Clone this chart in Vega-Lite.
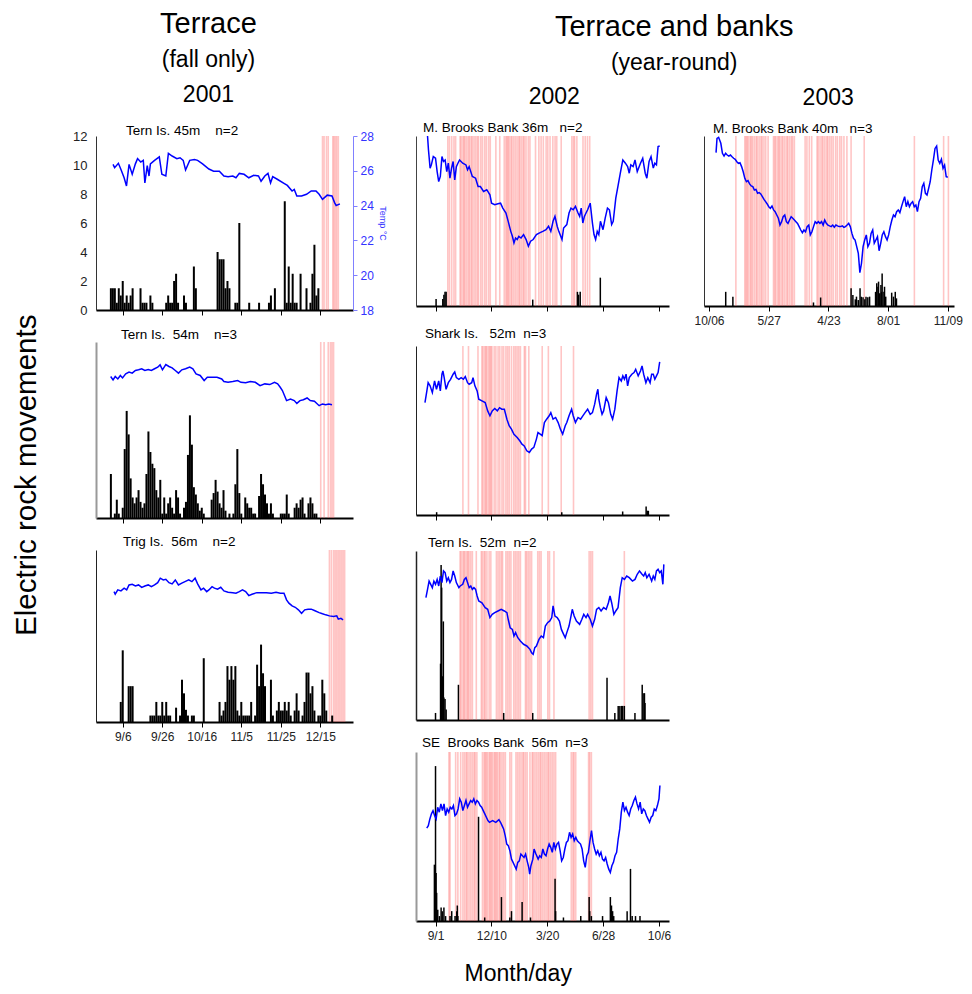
{
"$schema": "https://vega.github.io/schema/vega-lite/v6.json",
"background": "white",
"padding": {"left": 12, "top": 9, "right": 5, "bottom": 5},
"config": {
  "font": "Liberation Sans",
  "view": {"stroke": null},
  "axis": {"grid": false, "labelFont": "Liberation Sans", "labelFontSize": 12, "labelColor": "#222", "domainColor": "#000", "tickColor": "#000", "titleFontWeight": "normal", "labelFlush": false},
  "title": {"fontWeight": "normal", "color": "#000", "subtitleColor": "#000", "font": "Liberation Sans", "subtitleFont": "Liberation Sans"},
  "line": {"strokeWidth": 1.5}
},
"title": {"text": "Month/day", "orient": "bottom", "anchor": "middle", "fontSize": 23, "offset": 22, "dx": 31},
"vconcat": [{
 "title": {"text": "Electric rock movements", "orient": "left", "anchor": "middle", "fontSize": 29.5, "offset": 30},
 "spacing": 29,
 "hconcat": [
  {
   "title": {"text": "Terrace", "subtitle": ["(fall only)", "2001"], "fontSize": 29, "subtitleFontSize": 23, "subtitlePadding": 10, "subtitleLineHeight": 35, "anchor": "middle", "dx": -21, "offset": 17},
   "spacing": 10,
   "vconcat": [
    {
     "width": 257, "height": 174,
     "title": {"text": "Tern Is. 45m\u00a0\u00a0\u00a0 n=2", "anchor": "start", "frame": "group", "dx": 30, "fontSize": 13.5, "offset": -7},
     "encoding": {"x": {"field": "d", "type": "quantitative", "scale": {"domain": [-11, 114], "nice": false, "zero": false}, "axis": {"values": [0,20,40,60,80,100], "labels": false, "title": null, "domainWidth": 2, "tickSize": 5}}},
     "layer": [
      {"data": {"name": "L1e"}, "mark": {"type": "rule", "color": "#ff5a5a", "opacity": 0.35, "strokeWidth": 1.6}, "encoding": {}},
      {"data": {"name": "L1b"}, "mark": {"type": "bar", "color": "#000", "size": 2, "orient": "vertical"}, "encoding": {"y": {"field": "n", "type": "quantitative", "stack": null, "scale": {"domain": [0, 12]}, "axis": {"orient": "left", "values": [0,2,4,6,8,10,12], "ticks": false, "labelPadding": 9, "title": null, "domainColor": "#333", "labelFontSize": 13}}}},
      {"data": {"name": "L1t"}, "mark": {"type": "line", "color": "#0000ff"}, "encoding": {"y": {"field": "t", "type": "quantitative", "scale": {"domain": [18, 28]}, "axis": {"orient": "right", "values": [18,20,22,24,26,28], "title": "Temp \u00b0C", "titleFontSize": 9, "titleColor": "#3333ff", "labelColor": "#3333ff", "domainColor": "#8080ff", "tickColor": "#8080ff", "tickSize": 4, "labelPadding": 3, "titlePadding": 4}}}}
     ],
     "resolve": {"scale": {"y": "independent"}}
    },
    {
     "width": 257, "height": 176,
     "title": {"text": "Tern Is.\u00a0\u00a054m\u00a0\u00a0\u00a0 n=3", "anchor": "start", "frame": "group", "dx": 25, "fontSize": 13.5, "offset": 0},
     "encoding": {"x": {"field": "d", "type": "quantitative", "scale": {"domain": [-11, 114], "nice": false, "zero": false}, "axis": {"values": [0,20,40,60,80,100], "labels": false, "title": null, "domainWidth": 2, "tickSize": 5}}},
     "layer": [
      {"data": {"name": "L2e"}, "mark": {"type": "rule", "color": "#ff5a5a", "opacity": 0.35, "strokeWidth": 1.6}, "encoding": {}},
      {"data": {"name": "L2b"}, "mark": {"type": "bar", "color": "#000", "size": 2, "orient": "vertical"}, "encoding": {"y": {"field": "n", "type": "quantitative", "stack": null, "scale": {"domain": [0, 12]}, "axis": {"orient": "left", "labels": false, "ticks": false, "title": null, "domainColor": "#999", "domainWidth": 2}}}},
      {"data": {"name": "L2t"}, "mark": {"type": "line", "color": "#0000ff"}, "encoding": {"y": {"field": "t", "type": "quantitative", "scale": {"domain": [18, 28]}, "axis": null}}}
     ],
     "resolve": {"scale": {"y": "independent"}}
    },
    {
     "width": 257, "height": 172,
     "title": {"text": "Trig Is.\u00a0\u00a056m\u00a0\u00a0\u00a0 n=2", "anchor": "start", "frame": "group", "dx": 27, "fontSize": 13.5, "offset": 1},
     "encoding": {"x": {"field": "d", "type": "quantitative", "scale": {"domain": [-11, 114], "nice": false, "zero": false}, "axis": {"values": [0,20,40,60,80,100], "labelExpr": "['9/6','9/26','10/16','11/5','11/25','12/15'][datum.value/20]", "title": null, "domainWidth": 2, "tickSize": 5, "labelPadding": 4}}},
     "layer": [
      {"data": {"name": "L3e"}, "mark": {"type": "rule", "color": "#ff5a5a", "opacity": 0.35, "strokeWidth": 1.6}, "encoding": {}},
      {"data": {"name": "L3b"}, "mark": {"type": "bar", "color": "#000", "size": 2, "orient": "vertical"}, "encoding": {"y": {"field": "n", "type": "quantitative", "stack": null, "scale": {"domain": [0, 12]}, "axis": {"orient": "left", "labels": false, "ticks": false, "title": null, "domainColor": "#222"}}}},
      {"data": {"name": "L3t"}, "mark": {"type": "line", "color": "#0000ff"}, "encoding": {"y": {"field": "t", "type": "quantitative", "scale": {"domain": [18, 28]}, "axis": null}}}
     ],
     "resolve": {"scale": {"y": "independent"}}
    }
   ]
  },
  {
   "title": {"text": "Terrace and banks", "subtitle": "(year-round)", "fontSize": 29, "subtitleFontSize": 23, "subtitlePadding": 10, "anchor": "middle", "dx": -15, "offset": 11},
   "spacing": 22,
   "hconcat": [
    {
     "title": {"text": "2002", "anchor": "middle", "fontSize": 23, "offset": 12, "dx": 11},
     "spacing": 14,
     "vconcat": [
      {
       "width": 253, "height": 170,
       "title": {"text": "M. Brooks Bank 36m\u00a0\u00a0 n=2", "anchor": "start", "frame": "group", "dx": 7, "fontSize": 13.5, "offset": -1},
       "encoding": {"x": {"field": "d", "type": "quantitative", "scale": {"domain": [-26, 409], "nice": false, "zero": false}, "axis": {"values": [0,100,200,300,400], "labels": false, "title": null, "domainWidth": 2, "tickSize": 5}}},
       "layer": [
        {"data": {"name": "M1e"}, "mark": {"type": "rule", "color": "#ff5a5a", "opacity": 0.35, "strokeWidth": 1.6}, "encoding": {}},
        {"data": {"name": "M1b"}, "mark": {"type": "bar", "color": "#000", "size": 1.5, "orient": "vertical"}, "encoding": {"y": {"field": "n", "type": "quantitative", "stack": null, "scale": {"domain": [0, 12]}, "axis": {"orient": "left", "labels": false, "ticks": false, "title": null, "domainColor": "#444"}}}},
        {"data": {"name": "M1t"}, "mark": {"type": "line", "color": "#0000ff"}, "encoding": {"y": {"field": "t", "type": "quantitative", "scale": {"domain": [18, 28]}, "axis": null}}}
       ],
       "resolve": {"scale": {"y": "independent"}}
      },
      {
       "width": 253, "height": 169,
       "title": {"text": "Shark Is.\u00a0\u00a0\u00a052m\u00a0\u00a0n=3", "anchor": "start", "frame": "group", "dx": 9, "fontSize": 13.5, "offset": 5},
       "encoding": {"x": {"field": "d", "type": "quantitative", "scale": {"domain": [-26, 409], "nice": false, "zero": false}, "axis": {"values": [0,100,200,300,400], "labels": false, "title": null, "domainWidth": 2, "tickSize": 5}}},
       "layer": [
        {"data": {"name": "M2e"}, "mark": {"type": "rule", "color": "#ff5a5a", "opacity": 0.35, "strokeWidth": 1.6}, "encoding": {}},
        {"data": {"name": "M2b"}, "mark": {"type": "bar", "color": "#000", "size": 1.5, "orient": "vertical"}, "encoding": {"y": {"field": "n", "type": "quantitative", "stack": null, "scale": {"domain": [0, 12]}, "axis": {"orient": "left", "labels": false, "ticks": false, "title": null, "domainColor": "#222"}}}},
        {"data": {"name": "M2t"}, "mark": {"type": "line", "color": "#0000ff"}, "encoding": {"y": {"field": "t", "type": "quantitative", "scale": {"domain": [18, 28]}, "axis": null}}}
       ],
       "resolve": {"scale": {"y": "independent"}}
      },
      {
       "width": 253, "height": 169,
       "title": {"text": "Tern Is.\u00a0\u00a052m\u00a0\u00a0n=2", "anchor": "start", "frame": "group", "dx": 12, "fontSize": 13.5, "offset": 1},
       "encoding": {"x": {"field": "d", "type": "quantitative", "scale": {"domain": [-26, 409], "nice": false, "zero": false}, "axis": {"values": [0,100,200,300,400], "labels": false, "ticks": false, "title": null, "domainWidth": 2}}},
       "layer": [
        {"data": {"name": "M3e"}, "mark": {"type": "rule", "color": "#ff5a5a", "opacity": 0.35, "strokeWidth": 1.6}, "encoding": {}},
        {"data": {"name": "M3b"}, "mark": {"type": "bar", "color": "#000", "size": 1.5, "orient": "vertical"}, "encoding": {"y": {"field": "n", "type": "quantitative", "stack": null, "scale": {"domain": [0, 12]}, "axis": {"orient": "left", "labels": false, "ticks": false, "title": null, "domainColor": "#222", "domainWidth": 1.5}}}},
        {"data": {"name": "M3t"}, "mark": {"type": "line", "color": "#0000ff"}, "encoding": {"y": {"field": "t", "type": "quantitative", "scale": {"domain": [18, 28]}, "axis": null}}}
       ],
       "resolve": {"scale": {"y": "independent"}}
      },
      {
       "width": 253, "height": 169,
       "title": {"text": "SE\u00a0\u00a0Brooks Bank\u00a0\u00a056m\u00a0\u00a0n=3", "anchor": "start", "frame": "group", "dx": 6, "fontSize": 13.5, "offset": 2},
       "encoding": {"x": {"field": "d", "type": "quantitative", "scale": {"domain": [-26, 409], "nice": false, "zero": false}, "axis": {"values": [0,100,200,300,400], "labelExpr": "['9/1','12/10','3/20','6/28','10/6'][datum.value/100]", "title": null, "domainWidth": 2, "tickSize": 5, "labelPadding": 4}}},
       "layer": [
        {"data": {"name": "M4e"}, "mark": {"type": "rule", "color": "#ff5a5a", "opacity": 0.35, "strokeWidth": 1.6}, "encoding": {}},
        {"data": {"name": "M4b"}, "mark": {"type": "bar", "color": "#000", "size": 1.5, "orient": "vertical"}, "encoding": {"y": {"field": "n", "type": "quantitative", "stack": null, "scale": {"domain": [0, 12]}, "axis": {"orient": "left", "labels": false, "ticks": false, "title": null, "domainColor": "#999", "domainWidth": 2}}}},
        {"data": {"name": "M4t"}, "mark": {"type": "line", "color": "#0000ff"}, "encoding": {"y": {"field": "t", "type": "quantitative", "scale": {"domain": [18, 28]}, "axis": null}}}
       ],
       "resolve": {"scale": {"y": "independent"}}
      }
     ]
    },
    {
     "title": {"text": "2003", "anchor": "middle", "fontSize": 23, "offset": 12},
     "vconcat": [
      {
       "width": 250, "height": 170,
       "title": {"text": "M. Brooks Bank 40m\u00a0\u00a0 n=3", "anchor": "start", "frame": "group", "dx": 9, "fontSize": 13.5, "offset": -1},
       "encoding": {"x": {"field": "d", "type": "quantitative", "scale": {"domain": [0, 402], "nice": false, "zero": false}, "axis": {"values": [0,100,200,300,400], "labelExpr": "['10/06','5/27','4/23','8/01','11/09'][datum.value/100]", "title": null, "domainWidth": 2, "tickSize": 5, "labelPadding": 4}}},
       "layer": [
        {"data": {"name": "R1e"}, "mark": {"type": "rule", "color": "#ff5a5a", "opacity": 0.35, "strokeWidth": 1.6}, "encoding": {}},
        {"data": {"name": "R1b"}, "mark": {"type": "bar", "color": "#000", "size": 1.5, "orient": "vertical"}, "encoding": {"y": {"field": "n", "type": "quantitative", "stack": null, "scale": {"domain": [0, 12]}, "axis": {"orient": "left", "labels": false, "ticks": false, "title": null, "domainColor": "#333"}}}},
        {"data": {"name": "R1t"}, "mark": {"type": "line", "color": "#0000ff"}, "encoding": {"y": {"field": "t", "type": "quantitative", "scale": {"domain": [18, 28]}, "axis": null}}}
       ],
       "resolve": {"scale": {"y": "independent"}}
      }
     ]
    }
   ]
  }
 ]
}],
"datasets": {
"L1t": [{"d":-4.9,"t":26.37},{"d":-4.1,"t":26.18},{"d":-2.2,"t":26.43},{"d":-0.9,"t":26.08},{"d":0.7,"t":25.6},{"d":1.9,"t":25.13},{"d":3.2,"t":26.37},{"d":4.8,"t":25.8},{"d":6.4,"t":26.4},{"d":7.5,"t":26.7},{"d":9.1,"t":26.5},{"d":10.4,"t":26.6},{"d":11.2,"t":25.3},{"d":12.4,"t":26.3},{"d":13.3,"t":25.7},{"d":14.0,"t":26.4},{"d":16.1,"t":26.6},{"d":18.5,"t":26.8},{"d":19.8,"t":25.8},{"d":21.8,"t":25.7},{"d":23.1,"t":27.0},{"d":25.0,"t":26.85},{"d":27.4,"t":26.7},{"d":29.0,"t":26.75},{"d":30.6,"t":26.6},{"d":31.8,"t":26.05},{"d":33.9,"t":26.6},{"d":36.3,"t":26.65},{"d":37.9,"t":26.6},{"d":40.4,"t":26.4},{"d":43.6,"t":26.1},{"d":46.0,"t":25.98},{"d":48.9,"t":25.98},{"d":51.2,"t":25.7},{"d":53.3,"t":25.66},{"d":55.7,"t":25.7},{"d":57.3,"t":25.6},{"d":59.0,"t":25.85},{"d":61.4,"t":25.8},{"d":63.8,"t":25.6},{"d":66.3,"t":25.74},{"d":68.7,"t":25.7},{"d":70.0,"t":25.4},{"d":71.9,"t":25.7},{"d":73.5,"t":25.85},{"d":74.8,"t":25.3},{"d":75.9,"t":25.66},{"d":78.4,"t":25.5},{"d":81.6,"t":25.28},{"d":83.3,"t":25.16},{"d":85.7,"t":24.84},{"d":86.8,"t":24.93},{"d":88.1,"t":24.55},{"d":90.5,"t":24.55},{"d":93.0,"t":24.65},{"d":95.4,"t":24.84},{"d":97.8,"t":24.84},{"d":99.4,"t":24.65},{"d":101.1,"t":24.36},{"d":103.5,"t":24.6},{"d":105.9,"t":24.55},{"d":107.2,"t":24.17},{"d":108.0,"t":24.0},{"d":109.9,"t":24.1}],
"L1b": [{"d":-6,"n":1.5},{"d":-5,"n":1.5},{"d":-4,"n":1.5},{"d":-3,"n":0.5},{"d":-2,"n":1.5},{"d":-1,"n":1.0},{"d":0,"n":2.0},{"d":1,"n":0.5},{"d":2,"n":1.0},{"d":3,"n":0.5},{"d":4,"n":1.0},{"d":5,"n":1.5},{"d":9,"n":1.5},{"d":10,"n":0.5},{"d":11,"n":0.5},{"d":12,"n":0.5},{"d":14,"n":1.0},{"d":15,"n":0.5},{"d":22,"n":0.5},{"d":23,"n":1.0},{"d":24,"n":0.5},{"d":25,"n":0.5},{"d":26,"n":2.0},{"d":27,"n":2.5},{"d":28,"n":0.5},{"d":31,"n":1.0},{"d":32,"n":0.5},{"d":36,"n":3.0},{"d":37,"n":1.5},{"d":48,"n":4.0},{"d":49,"n":3.5},{"d":50,"n":3.5},{"d":51,"n":3.5},{"d":52,"n":1.5},{"d":53,"n":2.0},{"d":54,"n":1.5},{"d":57,"n":0.5},{"d":58,"n":0.5},{"d":59,"n":6.0},{"d":64,"n":0.5},{"d":69,"n":0.5},{"d":74,"n":0.5},{"d":75,"n":1.0},{"d":77,"n":1.5},{"d":82,"n":7.5},{"d":83,"n":0.5},{"d":84,"n":3.0},{"d":85,"n":0.5},{"d":86,"n":2.5},{"d":87,"n":0.5},{"d":88,"n":0.5},{"d":90,"n":2.5},{"d":93,"n":1.5},{"d":95,"n":0.5},{"d":96,"n":2.5},{"d":97,"n":4.5},{"d":98,"n":1.0},{"d":99,"n":1.5}],
"L1e": [{"d":101.1},{"d":101.9},{"d":103.1},{"d":104.0},{"d":106.3},{"d":106.9},{"d":107.6},{"d":108.3},{"d":109.1}],
"L2t": [{"d":-6.1,"t":26.04},{"d":-4.9,"t":25.85},{"d":-3.8,"t":26.04},{"d":-2.5,"t":25.9},{"d":-1.2,"t":26.1},{"d":-0.1,"t":25.96},{"d":1.5,"t":26.19},{"d":3.2,"t":26.29},{"d":4.8,"t":26.23},{"d":6.4,"t":26.38},{"d":8.0,"t":26.42},{"d":9.6,"t":26.48},{"d":11.2,"t":26.38},{"d":12.9,"t":26.44},{"d":14.5,"t":26.38},{"d":16.1,"t":26.48},{"d":17.7,"t":26.57},{"d":18.9,"t":26.7},{"d":20.1,"t":26.42},{"d":21.8,"t":26.72},{"d":23.4,"t":26.61},{"d":25.0,"t":26.53},{"d":26.6,"t":26.38},{"d":28.2,"t":26.23},{"d":29.9,"t":26.42},{"d":31.8,"t":26.48},{"d":33.9,"t":26.57},{"d":35.5,"t":26.48},{"d":37.1,"t":26.19},{"d":39.2,"t":26.1},{"d":41.2,"t":25.81},{"d":42.8,"t":26.0},{"d":45.2,"t":26.0},{"d":47.7,"t":26.0},{"d":50.1,"t":25.9},{"d":51.2,"t":25.75},{"d":53.3,"t":25.71},{"d":55.7,"t":25.75},{"d":58.2,"t":25.81},{"d":59.8,"t":25.71},{"d":62.2,"t":25.68},{"d":64.6,"t":25.75},{"d":67.1,"t":25.71},{"d":69.5,"t":25.52},{"d":71.9,"t":25.62},{"d":74.4,"t":25.58},{"d":76.8,"t":25.71},{"d":78.4,"t":25.62},{"d":79.7,"t":25.43},{"d":80.8,"t":25.24},{"d":81.9,"t":24.95},{"d":82.9,"t":24.67},{"d":84.9,"t":24.76},{"d":86.8,"t":24.67},{"d":88.1,"t":24.51},{"d":89.7,"t":24.67},{"d":91.4,"t":24.72},{"d":93.3,"t":24.82},{"d":94.9,"t":24.67},{"d":97.0,"t":24.63},{"d":99.4,"t":24.38},{"d":101.1,"t":24.48},{"d":102.7,"t":24.44},{"d":104.3,"t":24.48},{"d":105.9,"t":24.44}],
"L2b": [{"d":-6,"n":3.0},{"d":-4,"n":0.3},{"d":-3,"n":1.25},{"d":-2,"n":0.3},{"d":0,"n":0.7},{"d":1,"n":4.7},{"d":2,"n":7.3},{"d":3,"n":5.7},{"d":4,"n":2.7},{"d":5,"n":1.4},{"d":6,"n":1.0},{"d":7,"n":1.4},{"d":8,"n":1.9},{"d":9,"n":1.1},{"d":10,"n":0.7},{"d":11,"n":1.0},{"d":12,"n":3.0},{"d":13,"n":5.9},{"d":14,"n":4.5},{"d":15,"n":3.7},{"d":16,"n":3.4},{"d":17,"n":1.9},{"d":18,"n":1.4},{"d":19,"n":2.6},{"d":20,"n":0.3},{"d":21,"n":1.4},{"d":22,"n":0.3},{"d":23,"n":1.0},{"d":24,"n":1.4},{"d":25,"n":0.7},{"d":26,"n":0.3},{"d":27,"n":1.9},{"d":28,"n":1.4},{"d":29,"n":0.3},{"d":31,"n":0.7},{"d":32,"n":1.1},{"d":33,"n":4.3},{"d":34,"n":7.0},{"d":35,"n":5.0},{"d":36,"n":2.1},{"d":37,"n":1.6},{"d":38,"n":1.0},{"d":39,"n":0.5},{"d":40,"n":0.7},{"d":41,"n":0.3},{"d":45,"n":1.25},{"d":46,"n":1.7},{"d":47,"n":2.6},{"d":48,"n":1.8},{"d":49,"n":1.0},{"d":50,"n":0.7},{"d":51,"n":1.9},{"d":52,"n":0.5},{"d":54,"n":0.3},{"d":56,"n":0.3},{"d":57,"n":2.3},{"d":58,"n":4.7},{"d":59,"n":1.7},{"d":60,"n":0.3},{"d":62,"n":1.4},{"d":63,"n":1.0},{"d":64,"n":0.7},{"d":65,"n":0.7},{"d":66,"n":0.3},{"d":67,"n":0.3},{"d":69,"n":1.5},{"d":70,"n":3.0},{"d":71,"n":2.3},{"d":72,"n":1.6},{"d":73,"n":1.0},{"d":74,"n":0.3},{"d":75,"n":1.0},{"d":76,"n":0.3},{"d":80,"n":0.3},{"d":81,"n":0.3},{"d":82,"n":0.3},{"d":83,"n":1.6},{"d":84,"n":0.3},{"d":87,"n":0.7},{"d":88,"n":1.0},{"d":89,"n":0.7},{"d":90,"n":1.25},{"d":91,"n":1.4},{"d":92,"n":0.3},{"d":94,"n":1.0},{"d":95,"n":1.4},{"d":96,"n":1.0},{"d":97,"n":0.3},{"d":98,"n":0.3}],
"L2e": [{"d":100.2},{"d":101.9},{"d":104.0},{"d":105.1},{"d":105.9},{"d":106.7}],
"L3t": [{"d":-4.4,"t":25.58},{"d":-3.8,"t":25.43},{"d":-2.5,"t":25.68},{"d":-0.9,"t":25.62},{"d":0.7,"t":25.78},{"d":2.0,"t":25.68},{"d":3.2,"t":25.97},{"d":4.8,"t":26.01},{"d":6.4,"t":25.91},{"d":8.0,"t":25.97},{"d":9.6,"t":25.83},{"d":11.2,"t":25.91},{"d":12.9,"t":25.97},{"d":14.5,"t":25.87},{"d":16.1,"t":25.97},{"d":17.7,"t":26.1},{"d":19.0,"t":26.36},{"d":20.5,"t":26.26},{"d":21.8,"t":26.3},{"d":23.4,"t":26.1},{"d":25.0,"t":26.03},{"d":26.6,"t":26.26},{"d":28.2,"t":25.97},{"d":29.9,"t":26.07},{"d":31.5,"t":26.16},{"d":33.4,"t":26.26},{"d":35.0,"t":26.16},{"d":36.6,"t":26.36},{"d":37.9,"t":26.03},{"d":39.6,"t":25.68},{"d":40.9,"t":25.78},{"d":42.5,"t":25.58},{"d":43.6,"t":25.68},{"d":45.2,"t":25.87},{"d":46.4,"t":25.78},{"d":48.0,"t":25.72},{"d":49.6,"t":25.83},{"d":51.2,"t":25.62},{"d":53.3,"t":25.54},{"d":55.7,"t":25.52},{"d":57.3,"t":25.49},{"d":59.0,"t":25.58},{"d":60.6,"t":25.68},{"d":62.2,"t":25.58},{"d":63.8,"t":25.35},{"d":65.4,"t":25.43},{"d":67.9,"t":25.52},{"d":70.3,"t":25.52},{"d":72.7,"t":25.52},{"d":75.2,"t":25.49},{"d":77.6,"t":25.54},{"d":79.7,"t":25.49},{"d":81.6,"t":25.49},{"d":82.9,"t":25.1},{"d":84.1,"t":24.91},{"d":85.7,"t":24.75},{"d":87.3,"t":24.67},{"d":88.9,"t":24.52},{"d":90.5,"t":24.32},{"d":92.1,"t":24.52},{"d":93.8,"t":24.56},{"d":95.4,"t":24.56},{"d":97.0,"t":24.48},{"d":99.4,"t":24.36},{"d":101.1,"t":24.29},{"d":102.7,"t":24.23},{"d":104.6,"t":24.17},{"d":106.7,"t":24.13},{"d":108.3,"t":24.17},{"d":109.1,"t":23.98},{"d":110.4,"t":24.03},{"d":111.5,"t":23.94}],
"L3b": [{"d":-1,"n":1.4},{"d":0,"n":5.0},{"d":3,"n":2.5},{"d":4,"n":2.5},{"d":5,"n":2.5},{"d":14,"n":0.45},{"d":15,"n":0.45},{"d":16,"n":0.45},{"d":17,"n":1.4},{"d":18,"n":0.45},{"d":19,"n":0.45},{"d":20,"n":1.4},{"d":21,"n":0.45},{"d":22,"n":1.4},{"d":23,"n":0.45},{"d":24,"n":0.45},{"d":27,"n":1.0},{"d":29,"n":0.45},{"d":30,"n":2.95},{"d":31,"n":2.0},{"d":32,"n":0.85},{"d":33,"n":0.45},{"d":35,"n":0.45},{"d":36,"n":0.45},{"d":41,"n":4.45},{"d":49,"n":1.4},{"d":50,"n":0.45},{"d":51,"n":0.8},{"d":52,"n":1.4},{"d":53,"n":3.9},{"d":54,"n":2.95},{"d":55,"n":3.9},{"d":56,"n":2.95},{"d":57,"n":3.9},{"d":58,"n":0.8},{"d":59,"n":0.45},{"d":60,"n":1.4},{"d":61,"n":0.45},{"d":62,"n":0.45},{"d":63,"n":0.45},{"d":64,"n":0.45},{"d":65,"n":1.4},{"d":67,"n":0.45},{"d":68,"n":4.0},{"d":69,"n":2.5},{"d":70,"n":5.4},{"d":71,"n":3.4},{"d":72,"n":2.5},{"d":75,"n":2.95},{"d":76,"n":0.45},{"d":78,"n":0.8},{"d":79,"n":1.4},{"d":80,"n":0.8},{"d":81,"n":0.8},{"d":82,"n":1.4},{"d":83,"n":0.8},{"d":84,"n":1.4},{"d":85,"n":0.45},{"d":87,"n":0.8},{"d":88,"n":2.0},{"d":89,"n":0.8},{"d":91,"n":0.45},{"d":92,"n":1.4},{"d":93,"n":3.45},{"d":94,"n":3.45},{"d":95,"n":2.0},{"d":96,"n":2.5},{"d":97,"n":0.8},{"d":99,"n":0.45},{"d":100,"n":0.45},{"d":101,"n":2.95},{"d":102,"n":2.0},{"d":103,"n":0.8},{"d":106,"n":0.45}],
"L3e": [{"d":104.6},{"d":105.6},{"d":106.7},{"d":107.5},{"d":108.3},{"d":109.1},{"d":109.9},{"d":110.7},{"d":111.5},{"d":112.3}],
"M1t": [{"d":-14.3,"t":28.0},{"d":-12.6,"t":27.18},{"d":-9.7,"t":26.11},{"d":-7.5,"t":26.3},{"d":-4.0,"t":26.79},{"d":0,"t":26.69},{"d":2.9,"t":25.91},{"d":5.7,"t":25.32},{"d":8.6,"t":25.62},{"d":11.5,"t":26.79},{"d":14.3,"t":26.5},{"d":17.2,"t":26.59},{"d":20.1,"t":25.91},{"d":22.9,"t":26.4},{"d":25.8,"t":25.52},{"d":28.7,"t":26.11},{"d":31.5,"t":26.5},{"d":34.4,"t":25.42},{"d":37.3,"t":26.2},{"d":40.1,"t":26.4},{"d":43.0,"t":26.59},{"d":48.7,"t":26.4},{"d":54.5,"t":26.3},{"d":57.3,"t":26.01},{"d":60.2,"t":26.2},{"d":65.9,"t":25.62},{"d":71.7,"t":25.52},{"d":76.2,"t":25.03},{"d":80.3,"t":25.03},{"d":86.0,"t":24.74},{"d":91.7,"t":24.84},{"d":97.4,"t":24.54},{"d":100.3,"t":24.05},{"d":106.0,"t":23.96},{"d":111.8,"t":24.02},{"d":116.4,"t":24.05},{"d":120.4,"t":23.76},{"d":126.1,"t":23.47},{"d":130.1,"t":22.98},{"d":134.7,"t":22.39},{"d":137.6,"t":22.1},{"d":140.4,"t":21.71},{"d":143.3,"t":22.0},{"d":146.2,"t":21.91},{"d":149.0,"t":22.1},{"d":153.1,"t":22.0},{"d":157.6,"t":22.2},{"d":162.2,"t":21.91},{"d":166.2,"t":21.52},{"d":170.2,"t":21.81},{"d":174.8,"t":21.91},{"d":180.6,"t":22.2},{"d":186.3,"t":22.3},{"d":192.0,"t":22.39},{"d":197.8,"t":22.49},{"d":202.3,"t":22.69},{"d":206.4,"t":22.39},{"d":210.4,"t":22.98},{"d":213.8,"t":23.27},{"d":217.8,"t":22.69},{"d":220.7,"t":22.39},{"d":226.4,"t":21.91},{"d":229.3,"t":22.59},{"d":235.0,"t":22.79},{"d":239.0,"t":23.47},{"d":242.5,"t":23.76},{"d":246.5,"t":23.66},{"d":250.5,"t":23.86},{"d":255.1,"t":23.47},{"d":258.0,"t":23.27},{"d":260.8,"t":23.76},{"d":263.7,"t":22.88},{"d":266.5,"t":23.27},{"d":269.4,"t":23.47},{"d":272.3,"t":23.66},{"d":276.9,"t":24.05},{"d":280.9,"t":22.88},{"d":283.7,"t":22.2},{"d":286.6,"t":21.91},{"d":289.5,"t":22.39},{"d":292.3,"t":22.2},{"d":295.2,"t":22.98},{"d":299.8,"t":22.49},{"d":303.8,"t":23.18},{"d":307.8,"t":23.76},{"d":311.3,"t":23.66},{"d":315.3,"t":22.79},{"d":318.1,"t":22.98},{"d":322.7,"t":24.35},{"d":326.7,"t":25.07},{"d":330.8,"t":25.81},{"d":335.3,"t":26.59},{"d":339.9,"t":26.4},{"d":343.9,"t":26.2},{"d":346.8,"t":25.81},{"d":349.6,"t":26.3},{"d":353.7,"t":26.2},{"d":357.1,"t":26.59},{"d":361.1,"t":25.91},{"d":366.9,"t":26.4},{"d":370.9,"t":26.69},{"d":375.4,"t":25.81},{"d":378.3,"t":25.52},{"d":382.3,"t":26.5},{"d":385.8,"t":26.79},{"d":389.8,"t":26.11},{"d":392.6,"t":26.4},{"d":395.5,"t":26.3},{"d":398.4,"t":27.38},{"d":401.3,"t":27.41}],
"M1b": [{"d":1,"n":0.5},{"d":13,"n":0.5},{"d":15,"n":0.8},{"d":17,"n":1.0},{"d":19,"n":1.0},{"d":174,"n":0.45},{"d":254,"n":1.0},{"d":256,"n":0.8},{"d":259,"n":1.0},{"d":295,"n":2.0}],
"M1e": [{"d":22},{"d":25},{"d":29},{"d":33},{"d":36},{"d":44},{"d":46},{"d":49},{"d":51},{"d":53},{"d":56},{"d":59},{"d":61},{"d":64},{"d":66},{"d":69},{"d":72},{"d":75},{"d":77},{"d":81},{"d":84},{"d":88},{"d":91},{"d":95},{"d":98},{"d":108},{"d":115},{"d":123},{"d":126},{"d":128},{"d":130},{"d":132},{"d":135},{"d":137},{"d":140},{"d":143},{"d":146},{"d":149},{"d":151},{"d":154},{"d":157},{"d":159},{"d":162},{"d":166},{"d":169},{"d":179},{"d":185},{"d":189},{"d":193},{"d":198},{"d":201},{"d":205},{"d":210},{"d":214},{"d":217},{"d":225},{"d":244},{"d":247},{"d":249},{"d":253},{"d":264},{"d":268},{"d":272},{"d":276}],
"M2t": [{"d":-18.9,"t":24.65},{"d":-15.5,"t":25.34},{"d":-13.2,"t":25.83},{"d":-9.7,"t":25.64},{"d":-5.7,"t":25.24},{"d":-1.7,"t":25.93},{"d":1.7,"t":25.44},{"d":5.7,"t":25.93},{"d":8.6,"t":25.34},{"d":11.5,"t":26.33},{"d":13.2,"t":26.52},{"d":15.5,"t":26.13},{"d":18.9,"t":25.44},{"d":22.9,"t":25.83},{"d":26.9,"t":26.03},{"d":31.5,"t":26.33},{"d":34.4,"t":26.46},{"d":37.3,"t":26.13},{"d":41.8,"t":26.03},{"d":45.9,"t":26.13},{"d":49.9,"t":26.03},{"d":53.3,"t":26.19},{"d":57.3,"t":25.83},{"d":60.2,"t":25.74},{"d":64.8,"t":25.83},{"d":67.1,"t":26.13},{"d":70.5,"t":25.64},{"d":74.5,"t":25.34},{"d":77.4,"t":24.85},{"d":83.1,"t":24.75},{"d":88.9,"t":24.65},{"d":93.4,"t":24.16},{"d":97.4,"t":23.87},{"d":101.5,"t":24.16},{"d":106.0,"t":24.3},{"d":110.6,"t":24.16},{"d":114.6,"t":24.35},{"d":118.7,"t":24.26},{"d":123.2,"t":24.26},{"d":127.8,"t":23.67},{"d":131.8,"t":23.28},{"d":135.9,"t":23.08},{"d":140.4,"t":22.78},{"d":146.2,"t":22.59},{"d":150.8,"t":22.39},{"d":154.8,"t":22.19},{"d":158.8,"t":22.09},{"d":163.4,"t":21.8},{"d":168.0,"t":21.7},{"d":172.0,"t":21.9},{"d":176.0,"t":22.0},{"d":180.6,"t":22.49},{"d":183.4,"t":22.88},{"d":187.4,"t":22.78},{"d":190.9,"t":22.69},{"d":194.9,"t":23.47},{"d":198.9,"t":23.67},{"d":203.5,"t":23.87},{"d":206.4,"t":24.06},{"d":210.4,"t":23.67},{"d":215.0,"t":23.77},{"d":219.5,"t":23.47},{"d":223.6,"t":23.08},{"d":227.6,"t":22.78},{"d":232.2,"t":23.28},{"d":235.0,"t":23.47},{"d":239.0,"t":23.87},{"d":243.6,"t":24.26},{"d":246.5,"t":23.87},{"d":250.5,"t":23.47},{"d":255.1,"t":23.77},{"d":259.7,"t":23.67},{"d":263.7,"t":23.87},{"d":267.7,"t":24.06},{"d":272.3,"t":24.26},{"d":276.9,"t":23.96},{"d":280.9,"t":24.06},{"d":284.9,"t":24.56},{"d":288.3,"t":25.15},{"d":290.6,"t":25.44},{"d":292.3,"t":24.85},{"d":295.2,"t":24.35},{"d":298.1,"t":23.96},{"d":300.9,"t":24.16},{"d":305.5,"t":24.95},{"d":309.5,"t":24.65},{"d":313.6,"t":23.96},{"d":317.0,"t":23.67},{"d":321.0,"t":24.26},{"d":325.0,"t":25.34},{"d":328.5,"t":26.13},{"d":332.5,"t":25.93},{"d":335.3,"t":26.23},{"d":338.2,"t":26.03},{"d":341.1,"t":26.33},{"d":343.9,"t":25.64},{"d":346.8,"t":26.13},{"d":351.4,"t":26.33},{"d":355.4,"t":26.43},{"d":358.3,"t":26.62},{"d":362.8,"t":26.23},{"d":366.9,"t":26.52},{"d":369.7,"t":26.82},{"d":372.6,"t":26.33},{"d":376.6,"t":25.83},{"d":380.0,"t":26.13},{"d":384.1,"t":25.83},{"d":386.9,"t":26.33},{"d":389.8,"t":26.33},{"d":392.6,"t":26.03},{"d":395.5,"t":26.23},{"d":398.4,"t":26.43},{"d":401.3,"t":27.06}],
"M2b": [{"d":2,"n":0.2},{"d":226,"n":0.2},{"d":335,"n":0.25},{"d":377,"n":0.6},{"d":379,"n":0.3},{"d":381,"n":0.3}],
"M2e": [{"d":49},{"d":59},{"d":76},{"d":83},{"d":85},{"d":88},{"d":90},{"d":92},{"d":95},{"d":97},{"d":99},{"d":101},{"d":105},{"d":108},{"d":112},{"d":115},{"d":119},{"d":122},{"d":126},{"d":129},{"d":132},{"d":136},{"d":140},{"d":143},{"d":146},{"d":149},{"d":152},{"d":159},{"d":161},{"d":167},{"d":191},{"d":202},{"d":225},{"d":247}],
"M3t": [{"d":-17.2,"t":25.24},{"d":-14.3,"t":25.73},{"d":-11.5,"t":26.22},{"d":-8.6,"t":26.03},{"d":-5.7,"t":25.83},{"d":-2.9,"t":26.22},{"d":0,"t":26.03},{"d":2.9,"t":26.32},{"d":5.7,"t":25.93},{"d":8.6,"t":26.52},{"d":11.5,"t":26.13},{"d":14.3,"t":26.82},{"d":17.2,"t":26.72},{"d":20.1,"t":26.22},{"d":22.9,"t":26.42},{"d":25.8,"t":26.13},{"d":28.7,"t":26.32},{"d":31.5,"t":26.82},{"d":34.4,"t":26.52},{"d":37.3,"t":26.13},{"d":41.8,"t":25.83},{"d":44.1,"t":25.93},{"d":48.7,"t":26.03},{"d":51.6,"t":26.32},{"d":54.5,"t":26.42},{"d":57.3,"t":26.13},{"d":60.2,"t":25.83},{"d":63.1,"t":25.93},{"d":65.9,"t":25.73},{"d":68.8,"t":25.83},{"d":71.7,"t":25.73},{"d":74.5,"t":25.34},{"d":77.4,"t":25.04},{"d":83.1,"t":24.94},{"d":88.9,"t":24.65},{"d":93.4,"t":24.55},{"d":97.4,"t":24.06},{"d":101.5,"t":24.25},{"d":106.0,"t":24.35},{"d":111.8,"t":24.45},{"d":117.5,"t":24.55},{"d":123.2,"t":24.45},{"d":127.8,"t":24.35},{"d":130.1,"t":23.96},{"d":133.6,"t":23.46},{"d":137.6,"t":23.36},{"d":140.4,"t":22.97},{"d":143.3,"t":23.17},{"d":147.3,"t":22.87},{"d":151.9,"t":22.67},{"d":157.6,"t":22.48},{"d":163.4,"t":22.38},{"d":169.1,"t":22.18},{"d":172.0,"t":21.98},{"d":174.8,"t":21.89},{"d":177.7,"t":22.28},{"d":180.6,"t":22.38},{"d":185.2,"t":22.77},{"d":189.2,"t":22.97},{"d":193.2,"t":22.87},{"d":196.6,"t":23.56},{"d":200.6,"t":23.76},{"d":204.6,"t":23.86},{"d":208.1,"t":24.06},{"d":210.4,"t":24.75},{"d":213.8,"t":24.15},{"d":217.8,"t":24.06},{"d":221.8,"t":23.86},{"d":225.3,"t":23.36},{"d":229.3,"t":23.07},{"d":232.2,"t":22.87},{"d":235.0,"t":23.17},{"d":239.0,"t":23.56},{"d":242.5,"t":24.15},{"d":244.8,"t":24.55},{"d":248.2,"t":24.15},{"d":252.2,"t":23.86},{"d":258.0,"t":23.66},{"d":262.0,"t":23.96},{"d":265.4,"t":24.25},{"d":269.4,"t":24.06},{"d":272.3,"t":24.25},{"d":276.9,"t":23.96},{"d":280.9,"t":23.56},{"d":284.9,"t":23.96},{"d":288.3,"t":24.55},{"d":292.3,"t":24.65},{"d":296.4,"t":24.45},{"d":300.9,"t":24.65},{"d":305.5,"t":24.55},{"d":309.5,"t":24.94},{"d":312.4,"t":25.34},{"d":315.3,"t":24.94},{"d":319.3,"t":24.25},{"d":322.7,"t":24.45},{"d":326.7,"t":24.65},{"d":330.8,"t":25.83},{"d":334.2,"t":26.42},{"d":338.2,"t":26.32},{"d":342.2,"t":26.52},{"d":346.8,"t":26.42},{"d":352.5,"t":26.22},{"d":357.1,"t":26.32},{"d":361.1,"t":26.62},{"d":365.1,"t":26.82},{"d":369.7,"t":26.62},{"d":372.6,"t":26.52},{"d":375.4,"t":26.72},{"d":378.3,"t":26.42},{"d":382.3,"t":26.62},{"d":386.9,"t":26.22},{"d":389.8,"t":26.52},{"d":392.6,"t":26.32},{"d":395.5,"t":26.82},{"d":398.4,"t":26.92},{"d":401.3,"t":26.72},{"d":404.1,"t":26.82},{"d":407.0,"t":26.03},{"d":408.7,"t":27.21}],
"M3b": [{"d":0,"n":0.5},{"d":9,"n":4.0},{"d":10,"n":11.0},{"d":11,"n":9.4},{"d":13,"n":3.1},{"d":14,"n":7.0},{"d":15,"n":1.6},{"d":17,"n":1.5},{"d":19,"n":0.75},{"d":41,"n":2.5},{"d":122,"n":0.5},{"d":174,"n":0.5},{"d":307,"n":3.0},{"d":321,"n":0.5},{"d":327,"n":1.0},{"d":330,"n":1.0},{"d":333,"n":1.0},{"d":335,"n":1.0},{"d":338,"n":1.0},{"d":357,"n":0.5},{"d":370,"n":2.5},{"d":373,"n":1.9},{"d":374,"n":1.9},{"d":375,"n":1.2}],
"M3e": [{"d":44},{"d":46},{"d":49},{"d":51},{"d":53},{"d":56},{"d":58},{"d":60},{"d":63},{"d":66},{"d":73},{"d":82},{"d":84},{"d":87},{"d":89},{"d":92},{"d":96},{"d":99},{"d":109},{"d":112},{"d":115},{"d":118},{"d":120},{"d":126},{"d":129},{"d":132},{"d":135},{"d":140},{"d":143},{"d":146},{"d":149},{"d":152},{"d":161},{"d":163},{"d":166},{"d":169},{"d":172},{"d":183},{"d":186},{"d":189},{"d":201},{"d":204},{"d":212},{"d":275},{"d":278},{"d":281},{"d":338}],
"M4t": [{"d":-15.7,"t":23.49},{"d":-12.9,"t":23.64},{"d":-10.1,"t":24.04},{"d":-7.3,"t":24.34},{"d":-4.5,"t":24.53},{"d":-1.7,"t":24.24},{"d":1.1,"t":24.04},{"d":3.9,"t":24.73},{"d":6.7,"t":24.44},{"d":9.6,"t":24.93},{"d":12.4,"t":24.53},{"d":15.2,"t":24.93},{"d":18.0,"t":24.24},{"d":20.8,"t":24.63},{"d":23.6,"t":24.44},{"d":26.4,"t":24.73},{"d":29.2,"t":24.63},{"d":32.0,"t":24.83},{"d":34.8,"t":24.24},{"d":37.6,"t":24.34},{"d":40.4,"t":24.63},{"d":43.3,"t":25.23},{"d":46.1,"t":25.03},{"d":48.9,"t":24.53},{"d":51.7,"t":24.83},{"d":54.5,"t":25.13},{"d":57.3,"t":24.73},{"d":60.1,"t":24.93},{"d":62.9,"t":25.13},{"d":65.7,"t":25.03},{"d":68.5,"t":25.23},{"d":71.3,"t":24.93},{"d":74.2,"t":25.13},{"d":77.0,"t":25.03},{"d":79.8,"t":24.83},{"d":82.6,"t":24.73},{"d":85.4,"t":24.53},{"d":88.2,"t":24.34},{"d":91.0,"t":24.14},{"d":93.8,"t":23.94},{"d":96.6,"t":23.84},{"d":102.2,"t":23.94},{"d":107.9,"t":23.84},{"d":113.5,"t":24.0},{"d":116.3,"t":23.84},{"d":119.1,"t":23.64},{"d":121.9,"t":23.45},{"d":124.7,"t":23.05},{"d":127.5,"t":22.55},{"d":130.3,"t":22.46},{"d":133.1,"t":22.16},{"d":136.0,"t":21.66},{"d":138.8,"t":21.47},{"d":141.6,"t":21.27},{"d":144.4,"t":21.07},{"d":147.2,"t":21.47},{"d":150.0,"t":21.56},{"d":152.8,"t":21.96},{"d":155.6,"t":21.86},{"d":158.4,"t":21.76},{"d":161.2,"t":21.96},{"d":164.0,"t":21.56},{"d":166.9,"t":21.17},{"d":168.5,"t":20.77},{"d":170.8,"t":21.27},{"d":174.2,"t":21.66},{"d":176.4,"t":22.26},{"d":179.8,"t":21.96},{"d":183.7,"t":21.66},{"d":186.5,"t":21.86},{"d":189.3,"t":21.76},{"d":192.1,"t":22.26},{"d":194.9,"t":21.96},{"d":197.8,"t":21.86},{"d":200.6,"t":22.26},{"d":203.4,"t":22.55},{"d":206.2,"t":22.36},{"d":209.0,"t":22.06},{"d":211.8,"t":22.65},{"d":214.6,"t":22.26},{"d":217.4,"t":22.55},{"d":220.2,"t":22.65},{"d":223.0,"t":22.16},{"d":225.8,"t":21.56},{"d":228.7,"t":21.76},{"d":231.5,"t":22.26},{"d":234.3,"t":22.65},{"d":237.1,"t":22.75},{"d":239.9,"t":23.25},{"d":242.7,"t":22.95},{"d":245.5,"t":23.15},{"d":248.3,"t":22.75},{"d":251.1,"t":22.95},{"d":253.9,"t":22.75},{"d":256.7,"t":22.65},{"d":259.6,"t":22.55},{"d":262.4,"t":22.26},{"d":265.2,"t":21.56},{"d":268.0,"t":21.17},{"d":270.8,"t":21.86},{"d":273.6,"t":22.06},{"d":276.4,"t":22.75},{"d":279.2,"t":23.35},{"d":282.0,"t":22.65},{"d":284.8,"t":22.26},{"d":287.6,"t":21.96},{"d":290.4,"t":22.16},{"d":293.3,"t":21.86},{"d":296.1,"t":22.06},{"d":298.9,"t":21.66},{"d":301.7,"t":21.56},{"d":304.5,"t":21.76},{"d":307.3,"t":21.37},{"d":310.1,"t":21.07},{"d":312.9,"t":20.87},{"d":315.7,"t":21.27},{"d":318.5,"t":21.47},{"d":321.3,"t":21.86},{"d":324.2,"t":22.06},{"d":327.0,"t":22.85},{"d":329.8,"t":23.45},{"d":332.6,"t":24.44},{"d":335.4,"t":25.03},{"d":338.2,"t":24.53},{"d":341.0,"t":24.73},{"d":343.8,"t":24.44},{"d":346.6,"t":24.24},{"d":349.4,"t":24.63},{"d":352.2,"t":24.83},{"d":355.1,"t":25.13},{"d":357.9,"t":25.33},{"d":360.7,"t":24.93},{"d":363.5,"t":24.63},{"d":366.3,"t":25.03},{"d":369.1,"t":24.34},{"d":371.9,"t":24.63},{"d":374.7,"t":24.53},{"d":377.5,"t":24.24},{"d":380.3,"t":24.04},{"d":383.1,"t":23.84},{"d":386.0,"t":24.14},{"d":388.8,"t":24.24},{"d":391.6,"t":24.63},{"d":394.4,"t":24.53},{"d":397.2,"t":24.83},{"d":400.0,"t":25.23},{"d":401.7,"t":26.02}],
"M4b": [{"d":-2,"n":4.0},{"d":0,"n":11.0},{"d":1,"n":3.4},{"d":2,"n":2.0},{"d":4,"n":0.8},{"d":7,"n":0.35},{"d":10,"n":0.95},{"d":12,"n":0.7},{"d":15,"n":0.95},{"d":18,"n":0.35},{"d":26,"n":0.35},{"d":29,"n":0.7},{"d":35,"n":0.35},{"d":38,"n":0.7},{"d":39,"n":1.1},{"d":40,"n":0.35},{"d":77,"n":7.4},{"d":88,"n":0.25},{"d":118,"n":1.7},{"d":133,"n":0.25},{"d":136,"n":0.7},{"d":155,"n":1.35},{"d":170,"n":0.25},{"d":214,"n":3.0},{"d":215,"n":0.7},{"d":229,"n":0.25},{"d":260,"n":0.35},{"d":275,"n":1.7},{"d":276,"n":0.7},{"d":279,"n":0.35},{"d":299,"n":0.35},{"d":313,"n":1.7},{"d":315,"n":1.1},{"d":317,"n":0.7},{"d":319,"n":0.35},{"d":343,"n":0.7},{"d":349,"n":3.7},{"d":352,"n":0.35},{"d":358,"n":0.35},{"d":366,"n":0.35}],
"M4e": [{"d":24},{"d":26},{"d":36},{"d":40},{"d":45},{"d":49},{"d":52},{"d":55},{"d":57},{"d":60},{"d":63},{"d":66},{"d":69},{"d":71},{"d":74},{"d":84},{"d":87},{"d":89},{"d":91},{"d":93},{"d":96},{"d":98},{"d":100},{"d":102},{"d":105},{"d":107},{"d":109},{"d":111},{"d":114},{"d":116},{"d":119},{"d":122},{"d":125},{"d":133},{"d":136},{"d":144},{"d":147},{"d":150},{"d":153},{"d":156},{"d":158},{"d":161},{"d":164},{"d":169},{"d":173},{"d":175},{"d":178},{"d":181},{"d":184},{"d":187},{"d":189},{"d":192},{"d":195},{"d":198},{"d":201},{"d":203},{"d":206},{"d":209},{"d":212},{"d":215},{"d":243},{"d":246},{"d":248},{"d":251},{"d":274},{"d":276},{"d":279}],
"R1t": [{"d":11.8,"t":27.02},{"d":13.4,"t":27.86},{"d":16.1,"t":27.92},{"d":19.8,"t":27.57},{"d":22.5,"t":26.98},{"d":25.2,"t":26.82},{"d":27.8,"t":26.98},{"d":30.5,"t":26.88},{"d":33.2,"t":26.82},{"d":35.9,"t":26.88},{"d":38.6,"t":26.78},{"d":41.2,"t":26.69},{"d":43.9,"t":26.63},{"d":46.6,"t":26.49},{"d":49.3,"t":26.39},{"d":51.9,"t":26.43},{"d":54.6,"t":26.2},{"d":57.3,"t":25.9},{"d":60.0,"t":25.51},{"d":62.7,"t":25.31},{"d":65.3,"t":25.37},{"d":68.0,"t":25.18},{"d":70.7,"t":25.06},{"d":73.4,"t":25.02},{"d":76.0,"t":24.82},{"d":78.7,"t":24.86},{"d":81.4,"t":24.63},{"d":84.1,"t":24.67},{"d":86.7,"t":24.59},{"d":89.4,"t":24.43},{"d":92.1,"t":24.27},{"d":94.8,"t":24.14},{"d":97.5,"t":24.0},{"d":100.1,"t":23.84},{"d":102.8,"t":23.75},{"d":105.5,"t":23.88},{"d":108.2,"t":23.65},{"d":110.8,"t":23.55},{"d":113.5,"t":23.35},{"d":116.2,"t":23.16},{"d":118.9,"t":22.76},{"d":121.6,"t":22.96},{"d":124.2,"t":23.25},{"d":126.9,"t":23.35},{"d":129.6,"t":22.96},{"d":132.3,"t":22.86},{"d":134.9,"t":23.06},{"d":137.6,"t":23.25},{"d":140.3,"t":23.16},{"d":143.0,"t":23.06},{"d":145.6,"t":22.96},{"d":148.3,"t":22.86},{"d":151.0,"t":22.67},{"d":153.7,"t":22.47},{"d":156.4,"t":22.31},{"d":159.0,"t":22.47},{"d":161.7,"t":22.37},{"d":164.4,"t":22.67},{"d":167.1,"t":22.76},{"d":169.7,"t":22.18},{"d":172.4,"t":22.37},{"d":175.1,"t":22.67},{"d":177.8,"t":22.96},{"d":180.5,"t":22.86},{"d":183.1,"t":22.96},{"d":185.8,"t":22.86},{"d":188.5,"t":22.96},{"d":191.2,"t":22.76},{"d":193.8,"t":23.06},{"d":196.5,"t":22.86},{"d":199.2,"t":22.76},{"d":201.9,"t":22.71},{"d":204.6,"t":22.67},{"d":207.2,"t":22.76},{"d":209.9,"t":22.63},{"d":212.6,"t":22.76},{"d":215.3,"t":22.71},{"d":217.9,"t":22.67},{"d":220.6,"t":22.67},{"d":223.3,"t":22.71},{"d":226.0,"t":22.63},{"d":228.6,"t":22.67},{"d":231.3,"t":22.76},{"d":234.0,"t":22.86},{"d":236.7,"t":22.67},{"d":239.4,"t":22.27},{"d":242.0,"t":21.98},{"d":244.7,"t":21.88},{"d":247.4,"t":21.49},{"d":250.1,"t":21.1},{"d":252.7,"t":19.96},{"d":255.4,"t":20.51},{"d":258.1,"t":21.49},{"d":260.8,"t":21.88},{"d":263.5,"t":22.18},{"d":266.1,"t":21.49},{"d":268.8,"t":21.69},{"d":271.5,"t":22.27},{"d":274.2,"t":22.47},{"d":276.8,"t":21.69},{"d":279.5,"t":21.88},{"d":282.2,"t":22.08},{"d":284.9,"t":21.25},{"d":287.6,"t":21.69},{"d":290.2,"t":22.18},{"d":292.9,"t":22.37},{"d":295.6,"t":22.08},{"d":298.3,"t":21.88},{"d":300.9,"t":22.18},{"d":303.6,"t":22.67},{"d":306.3,"t":23.06},{"d":309.0,"t":23.35},{"d":311.6,"t":23.25},{"d":314.3,"t":23.55},{"d":317.0,"t":23.65},{"d":319.7,"t":23.49},{"d":322.4,"t":23.84},{"d":325.0,"t":24.14},{"d":327.7,"t":24.43},{"d":330.4,"t":23.84},{"d":333.1,"t":24.14},{"d":335.7,"t":23.84},{"d":338.4,"t":24.04},{"d":341.1,"t":24.14},{"d":343.8,"t":23.84},{"d":346.5,"t":23.94},{"d":349.1,"t":23.55},{"d":351.8,"t":24.14},{"d":354.5,"t":24.33},{"d":357.2,"t":25.02},{"d":359.8,"t":25.22},{"d":362.5,"t":24.63},{"d":365.2,"t":24.53},{"d":367.9,"t":24.92},{"d":370.5,"t":25.31},{"d":373.2,"t":26.0},{"d":375.9,"t":26.59},{"d":378.6,"t":27.27},{"d":381.3,"t":27.41},{"d":383.9,"t":26.59},{"d":386.6,"t":26.39},{"d":389.3,"t":26.63},{"d":392.0,"t":26.1},{"d":394.6,"t":26.29},{"d":397.3,"t":25.61},{"d":400.0,"t":25.57}],
"R1b": [{"d":28,"n":1.0},{"d":40,"n":0.65},{"d":175,"n":0.25},{"d":187,"n":0.6},{"d":238,"n":1.25},{"d":241,"n":0.78},{"d":245,"n":0.47},{"d":247,"n":0.66},{"d":250,"n":0.42},{"d":253,"n":1.25},{"d":255,"n":0.66},{"d":258,"n":0.61},{"d":261,"n":0.47},{"d":263,"n":0.66},{"d":266,"n":0.61},{"d":269,"n":0.66},{"d":279,"n":1.0},{"d":281,"n":1.6},{"d":283,"n":1.36},{"d":284,"n":1.72},{"d":286,"n":0.9},{"d":288,"n":1.48},{"d":289,"n":1.0},{"d":290,"n":2.3},{"d":293,"n":1.0},{"d":294,"n":1.36},{"d":296,"n":0.66},{"d":306,"n":0.94},{"d":309,"n":0.66},{"d":312,"n":1.0},{"d":314,"n":0.54}],
"R1e": [{"d":45},{"d":60},{"d":62},{"d":64},{"d":66},{"d":69},{"d":71},{"d":73},{"d":76},{"d":79},{"d":81},{"d":84},{"d":87},{"d":89},{"d":92},{"d":95},{"d":99},{"d":108},{"d":110},{"d":112},{"d":115},{"d":117},{"d":119},{"d":122},{"d":124},{"d":127},{"d":130},{"d":132},{"d":135},{"d":138},{"d":140},{"d":143},{"d":161},{"d":164},{"d":168},{"d":172},{"d":181},{"d":183},{"d":186},{"d":189},{"d":191},{"d":194},{"d":197},{"d":199},{"d":202},{"d":205},{"d":208},{"d":212},{"d":215},{"d":219},{"d":222},{"d":226},{"d":231},{"d":238},{"d":260},{"d":344},{"d":393},{"d":401}]
}
}
